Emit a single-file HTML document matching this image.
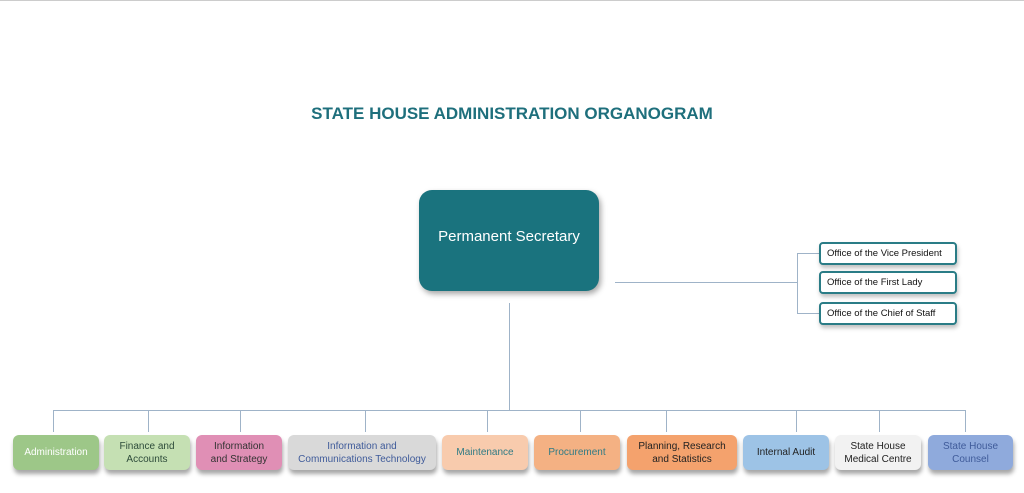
<!DOCTYPE html>
<html><head><style>
body{margin:0;width:1024px;height:493px;background:#fff;position:relative;overflow:hidden;font-family:"Liberation Sans",sans-serif}
.a{position:absolute}
.l{position:absolute;background:#9fb3c8}
.b{position:absolute;top:435px;height:35px;border-radius:6px;display:flex;align-items:center;justify-content:center;text-align:center;font-size:10px;line-height:13px;box-shadow:1px 4px 4px rgba(0,0,0,.35)}
.s{position:absolute;left:819px;height:19px;border:2px solid #2a7c86;border-radius:4px;background:#fff;font-size:9.5px;display:flex;align-items:center;padding-left:6px;box-sizing:content-box;width:128px;box-shadow:1px 3px 4px rgba(0,0,0,.25);color:#111}
</style></head><body>
<div class="a" style="left:0;top:0;width:1024px;height:1px;background:#ccc"></div>
<div class="a" style="left:0;top:104px;width:1024px;text-align:center;font-size:17px;font-weight:bold;color:#1e6f7c">STATE HOUSE ADMINISTRATION ORGANOGRAM</div>
<div class="a" style="left:419px;top:190px;width:180px;height:93px;padding-bottom:8px;background:#1a737e;border-radius:13px;color:#fff;font-size:15px;display:flex;align-items:center;justify-content:center;box-shadow:2px 3px 6px rgba(0,0,0,.35)">Permanent Secretary</div>
<div class="l" style="left:615px;top:282px;width:182px;height:1px"></div>
<div class="l" style="left:797px;top:253px;width:1px;height:61px"></div>
<div class="l" style="left:797px;top:253px;width:22px;height:1px"></div>
<div class="l" style="left:797px;top:313px;width:22px;height:1px"></div>
<div class="s" style="top:242px">Office of the Vice President</div>
<div class="s" style="top:271px">Office of the First Lady</div>
<div class="s" style="top:302px">Office of the Chief of Staff</div>
<div class="l" style="left:509px;top:303px;width:1px;height:107px"></div>
<div class="l" style="left:53px;top:410px;width:913px;height:1px"></div>
<div class="l" style="left:53px;top:410px;width:1px;height:22px"></div>
<div class="l" style="left:148px;top:410px;width:1px;height:22px"></div>
<div class="l" style="left:240px;top:410px;width:1px;height:22px"></div>
<div class="l" style="left:365px;top:410px;width:1px;height:22px"></div>
<div class="l" style="left:487px;top:410px;width:1px;height:22px"></div>
<div class="l" style="left:580px;top:410px;width:1px;height:22px"></div>
<div class="l" style="left:666px;top:410px;width:1px;height:22px"></div>
<div class="l" style="left:796px;top:410px;width:1px;height:22px"></div>
<div class="l" style="left:879px;top:410px;width:1px;height:22px"></div>
<div class="l" style="left:965px;top:410px;width:1px;height:22px"></div>
<div class="b" style="left:13px;width:86px;background:#9dc788;color:#fff">Administration</div>
<div class="b" style="left:104px;width:86px;background:#c5e0b3;color:#2d4b3a">Finance and<br>Accounts</div>
<div class="b" style="left:196px;width:86px;background:#e08fb5;color:#333">Information<br>and Strategy</div>
<div class="b" style="left:288px;width:148px;background:#d9d9d9;color:#3f5b9a">Information and<br>Communications Technology</div>
<div class="b" style="left:442px;width:86px;background:#f8cbad;color:#2f7b85">Maintenance</div>
<div class="b" style="left:534px;width:86px;background:#f4b183;color:#2f7b85">Procurement</div>
<div class="b" style="left:627px;width:110px;background:#f4a26d;color:#222">Planning, Research<br>and Statistics</div>
<div class="b" style="left:743px;width:86px;background:#9dc3e6;color:#222">Internal Audit</div>
<div class="b" style="left:835px;width:86px;background:#f2f2f2;color:#222">State House<br>Medical Centre</div>
<div class="b" style="left:928px;width:85px;background:#8faadc;color:#3f5b9a">State House<br>Counsel</div>
</body></html>
